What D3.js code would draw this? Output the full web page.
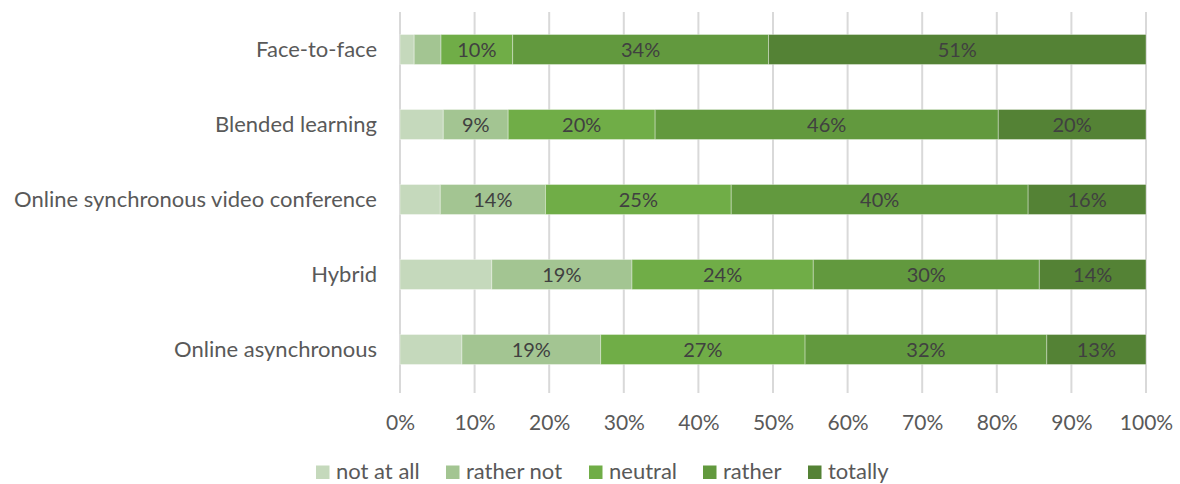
<!DOCTYPE html>
<html><head><meta charset="utf-8">
<script src="https://cdn.jsdelivr.net/npm/d3@7"></script>
<style>body{margin:0;background:#fff;} text{font-family:Lato,"Open Sans",sans-serif;}</style>
</head><body>
<svg id="c" width="1180" height="484"></svg>
<script>
const categories = ["Face-to-face","Blended learning","Online synchronous video conference","Hybrid","Online asynchronous"];
const seriesNames = ["not at all","rather not","neutral","rather","totally"];
const notAtAll  = [1.9, 5.8, 5.4, 12.3, 8.3];
const ratherNot = [3.6, 8.7, 14.1, 18.8, 18.6];
const neutral   = [9.6, 19.7, 24.9, 24.3, 27.4];
const rather    = [34.3, 46.0, 39.8, 30.3, 32.4];
const totally   = [50.6, 19.8, 15.8, 14.3, 13.3];
const colors = ["#c5d9bc","#a3c592","#70ad47","#62993e","#548235"];
const ticks = [0,10,20,30,40,50,60,70,80,90,100];

const seriesVals = [notAtAll, ratherNot, neutral, rather, totally];
const rows = categories.map((c,i)=>{const o={cat:c}; seriesNames.forEach((s,j)=>o[s]=seriesVals[j][i]); return o;});
const stack = d3.stack().keys(seriesNames)(rows);

const svg = d3.select("#c");
const x = d3.scaleLinear().domain([0,100]).range([400,1146]);
const y = d3.scaleBand().domain(categories).range([12,387]).paddingInner(0.6).paddingOuter(0.3);

svg.append("g").selectAll("line").data(ticks).join("line")
  .attr("x1",d=>x(d)).attr("x2",d=>x(d)).attr("y1",12).attr("y2",393)
  .attr("stroke","#d9d9d9").attr("stroke-width",2);

const g = svg.append("g");
stack.forEach((layer,j)=>{
  g.append("g").selectAll("rect").data(layer).join("rect")
    .attr("x",d=>x(d[0])).attr("width",d=>x(d[1])-x(d[0]))
    .attr("y",(d,i)=>y(categories[i])).attr("height",y.bandwidth())
    .attr("fill",colors[j]).attr("stroke","#ffffff").attr("stroke-opacity",0.35).attr("stroke-width",1);
});
stack.forEach((layer,j)=>{
  if(j===0) return;
  g.append("g").selectAll("text").data(layer.filter(d=>(d[1]-d[0])>=5)).join("text")
    .attr("x",d=>(x(d[0])+x(d[1]))/2)
    .attr("y",d=>y(d.data.cat)+y.bandwidth()/2)
    .attr("dy","0.36em").attr("text-anchor","middle")
    .attr("font-size",20).attr("fill","#404040")
    .text(d=>Math.round(d[1]-d[0])+"%");
});

svg.append("g").selectAll("text").data(categories).join("text")
  .attr("x",377).attr("y",d=>y(d)+y.bandwidth()/2).attr("dy","0.36em")
  .attr("text-anchor","end").attr("font-size",22).attr("fill","#595959").text(d=>d);

const xAxis = d3.axisBottom(x).tickValues(ticks).tickFormat(d=>d+"%").tickSize(0).tickPadding(0);
const ax = svg.append("g").attr("transform","translate(0,415)").call(xAxis);
ax.select(".domain").remove();
ax.selectAll("text").attr("font-size",21).attr("fill","#595959").attr("font-family","Lato,'Open Sans',sans-serif");

const legX = [316,446,589,703,808];
const leg = svg.append("g");
seriesNames.forEach((s,j)=>{
  leg.append("rect").attr("x",legX[j]).attr("y",465.5).attr("width",13.5).attr("height",13.5).attr("fill",colors[j]);
  leg.append("text").attr("x",legX[j]+20).attr("y",471).attr("dy","0.36em")
    .attr("font-size",22).attr("fill","#595959").text(s);
});
</script>
</body></html>
